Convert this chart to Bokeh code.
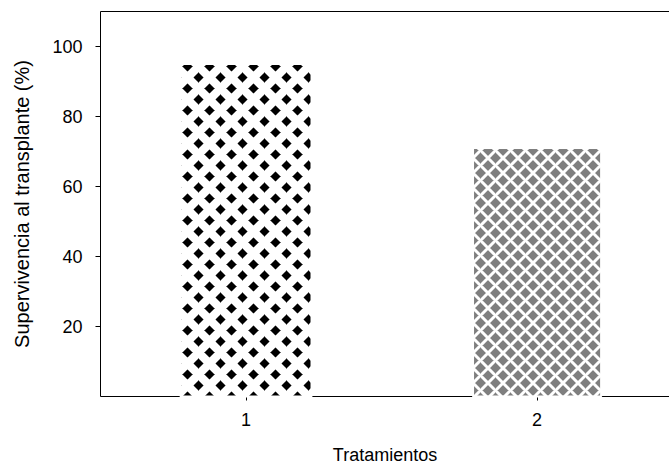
from bokeh.plotting import figure
from bokeh.models import ColumnDataSource, FixedTicker, LinearAxis, Range1d
from bokeh.embed import file_html
from bokeh.resources import INLINE

# data
treatments = [1, 2]
survival = [95, 71]
y_ticks = [20, 40, 60, 80, 100]
x_label = "Tratamientos"
y_label = "Supervivencia al transplante (%)"

FONT = "Liberation Sans"

p = figure(width=669, height=468, output_backend="svg", toolbar_location=None,
           x_range=Range1d(0.5, 2.455), y_range=Range1d(0, 110),
           min_border_left=100, min_border_right=0, min_border_top=11,
           min_border_bottom=72)
p.outline_line_color = None
p.xgrid.visible = False
p.ygrid.visible = False
p.background_fill_color = "white"
p.border_fill_color = "white"

src1 = ColumnDataSource(dict(x=[treatments[0]], top=[survival[0]]))
src2 = ColumnDataSource(dict(x=[treatments[1]], top=[survival[1]]))

p.vbar(x="x", top="top", bottom=0, width=0.45, source=src1,
       fill_color="black", line_color="white", line_width=2, level="overlay",
       hatch_pattern="x", hatch_color="white", hatch_weight=8.4, hatch_scale=22)
p.vbar(x="x", top="top", bottom=0, width=0.44, source=src2,
       fill_color="#7f7f7f", line_color="white", line_width=2, level="overlay",
       hatch_pattern="x", hatch_color="white", hatch_weight=3, hatch_scale=15)

# axes
for ax in (p.xaxis[0], p.yaxis[0]):
    ax.axis_line_color = "black"
    ax.axis_line_width = 1
    ax.major_tick_line_color = "black"
    ax.major_tick_in = 0
    ax.minor_tick_line_color = None
    ax.major_label_text_font = FONT
    ax.major_label_text_font_size = "18px"
    ax.major_label_text_color = "black"
    ax.axis_label_text_font = FONT
    ax.axis_label_text_font_style = "normal"
    ax.axis_label_text_color = "black"

p.xaxis.ticker = FixedTicker(ticks=treatments)
p.xaxis.major_tick_out = 4
p.xaxis.major_label_standoff = 12
p.xaxis.axis_label = x_label
p.xaxis.axis_label_text_font_size = "18px"
p.xaxis.axis_label_standoff = 16
p.xaxis.axis_label_text_baseline = "middle"

p.yaxis.ticker = FixedTicker(ticks=y_ticks)
p.yaxis.major_tick_out = 5
p.yaxis.major_label_standoff = 13
p.yaxis.axis_label = y_label
p.yaxis.axis_label_text_font_size = "20px"
p.yaxis.axis_label_standoff = 16

top_axis = LinearAxis(ticker=FixedTicker(ticks=[]), axis_line_color="black",
                      major_tick_line_color=None, minor_tick_line_color=None,
                      major_label_text_font_size="0px")
p.add_layout(top_axis, "above")

open("out.html", "w").write(file_html(p, INLINE))
